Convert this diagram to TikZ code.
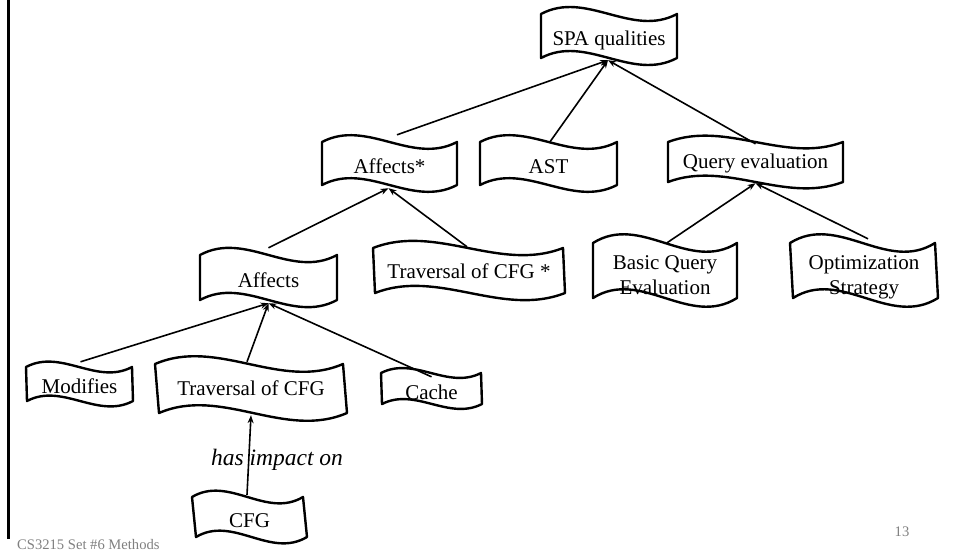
\documentclass[tikz,border=0pt]{standalone}
\usepackage{fontspec}
\setmainfont{Liberation Serif}
\usetikzlibrary{arrows.meta,calc}
\definecolor{footgray}{RGB}{128,128,128}
\tikzset{
  waveline/.style={draw=black, line width=2.4pt, line join=round},
  boxframe/.style={inner sep=0pt, rectangle},
  boxlabel/.style={inner sep=0pt, align=center, font=\fontsize{21}{25}\selectfont},
  oneline/.style={anchor=base, yshift=-#1pt},
  twoline/.style={anchor=center, text height=15pt, text depth=5pt, yshift=-#1pt},
  link/.style={line width=1.6pt, -{Stealth[length=8pt,width=6pt]}},
  footnote/.style={inner sep=0pt, text=footgray, font=\fontsize{14.6}{17}\selectfont},
}
% Wavy banner: name, left, right, top corner, bottom corner, shear of the bottom edge,
% text, placement of the text
\newcommand{\wavebox}[8]{%
  \pgfmathsetmacro\wL{#2}\pgfmathsetmacro\wR{#3}%
  \pgfmathsetmacro\wT{#4}\pgfmathsetmacro\wB{#5}\pgfmathsetmacro\wS{#6}%
  \pgfmathsetmacro\wK{0.55*(\wB-\wT)}%
  \pgfmathsetmacro\wP{\wL+(\wR-\wL)/3}\pgfmathsetmacro\wQ{\wL+2*(\wR-\wL)/3}%
  \draw[waveline] (\wL,\wT) .. controls (\wP,\wT-\wK) and (\wQ,\wT+\wK) .. (\wR,\wT)
     -- (\wR+\wS,\wB) .. controls (\wQ+\wS,\wB+\wK) and (\wP+\wS,\wB-\wK) .. (\wL+\wS,\wB) -- cycle;
  \node[boxframe, minimum width={(\wR-\wL)*1pt}, minimum height={(\wB-\wT)*1pt}]
     (#1) at ({(\wL+\wR+\wS)/2},{(\wT+\wB)/2}) {};
  \node[boxlabel, #8] (#1-text) at (#1.center) {#7};
}
\begin{document}
\begin{tikzpicture}[x=1pt, y=-1pt]
\useasboundingbox (0,0) rectangle (955,555);

% left margin rule
\coordinate (railtop) at (8.5,0);
\coordinate (railbot) at (8.5,539);
\draw[line width=2.6pt] (railtop) -- (railbot);

% banners
\wavebox{spa}{541}{677}{14}{58}{0}{SPA qualities}{oneline=9}
\wavebox{affstar}{322}{457}{142}{185}{0}{Affects*}{oneline=9.5}
\wavebox{ast}{480}{617}{142}{185}{0}{AST}{oneline=9.5}
\wavebox{query}{668}{843}{142}{182}{0}{Query evaluation}{oneline=6.5}
\wavebox{affects}{200}{337}{255}{300}{0}{Affects}{oneline=9.5}
\wavebox{travstar}{373}{563}{248}{293}{2}{Traversal of CFG *}{oneline=7.5}
\wavebox{basic}{593}{737}{243}{298}{0}{Basic Query\\Evaluation}{twoline=19}
\wavebox{optim}{790}{935}{243}{298}{3}{Optimization\\Strategy}{twoline=19}
\wavebox{modifies}{26}{132}{367}{401}{1}{Modifies}{oneline=9}
\wavebox{trav}{155}{343}{364}{413}{4}{Traversal of CFG}{oneline=7}
\wavebox{cache}{381}{481}{373}{404}{1}{Cache}{oneline=11}
\wavebox{cfg}{192}{303}{497}{537}{4}{CFG}{oneline=10}

% connectors
\draw[link] ([shift={(7.5,-7)}]affstar.north) -- ([shift={(-1,2)}]spa.south);
\draw[link] ([shift={(1.5,0)}]ast.north) -- ([shift={(-1,2)}]spa.south);
\draw[link] ([shift={(0,2)}]query.north) -- ([shift={(-1,2)}]spa.south);
\draw[link] ([shift={(0,-7)}]affects.north) -- ([shift={(-1,3)}]affstar.south);
\draw[link] ([shift={(-2,-1)}]travstar.north) -- ([shift={(-1,3)}]affstar.south);
\draw[link] ([shift={(2,0)}]basic.north) -- ([shift={(0,1)}]query.south);
\draw[link] ([shift={(4,-4)}]optim.north) -- ([shift={(0,1)}]query.south);
\draw[link] ([shift={(1,-5)}]modifies.north) -- ([shift={(0,3)}]affects.south);
\draw[link] ([shift={(-4,-2)}]trav.north) -- ([shift={(0,3)}]affects.south);
\draw[link] ([shift={(0,4)}]cache.north) -- ([shift={(0,3)}]affects.south);
\draw[link] ([shift={(-2.5,-2)}]cfg.north) -- ([shift={(0,2)}]trav.south);

\node[font=\fontsize{23.5}{26}\selectfont\itshape] (impact) at (277,460) {has impact on};

% footer
\node[footnote, anchor=west] (footer) at (17,544) {CS3215 Set \#6 Methods};
\node[footnote] (pagenum) at (902,532) {13};
\end{tikzpicture}
\end{document}
